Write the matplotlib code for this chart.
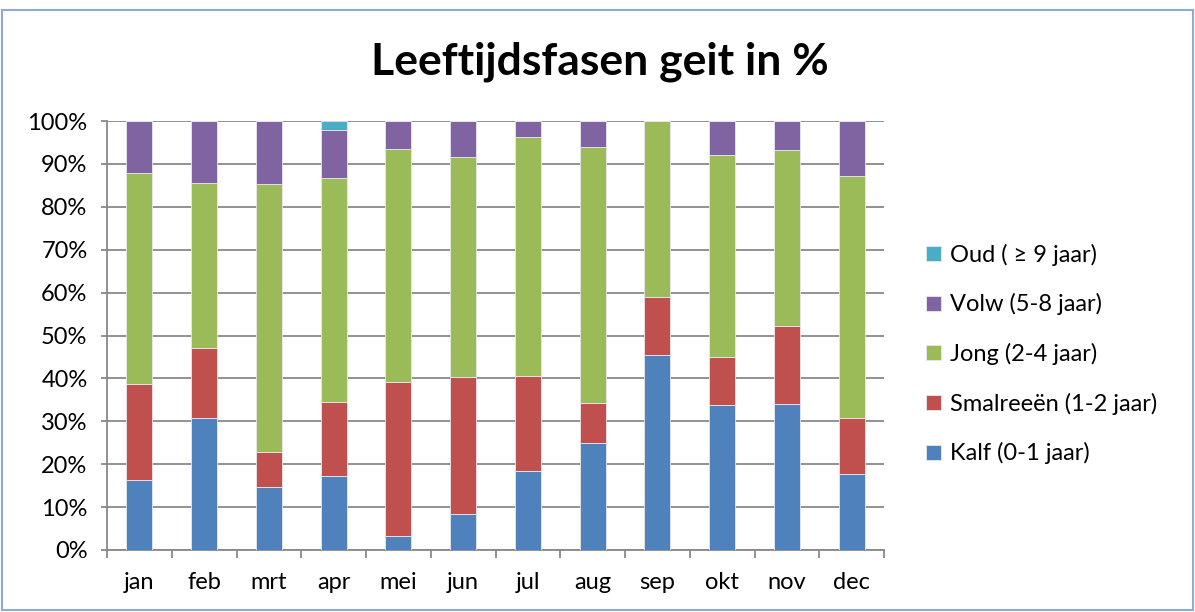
import matplotlib
matplotlib.use("Agg")
import matplotlib.pyplot as plt
import matplotlib.ticker as mticker
from matplotlib.patches import Rectangle
import numpy as np

plt.rcParams['font.family'] = ['Lato', 'DejaVu Sans']

months = ["jan", "feb", "mrt", "apr", "mei", "jun", "jul", "aug", "sep", "okt", "nov", "dec"]
kalf = [16.3, 30.8, 14.6, 17.3, 3.2, 8.4, 18.4, 24.9, 45.4, 33.9, 34.1, 17.8]
smalreeen = [22.4, 16.4, 8.2, 17.2, 35.9, 31.9, 22.2, 9.3, 13.6, 11.2, 18.1, 12.9]
jong = [49.2, 38.3, 62.5, 52.1, 54.4, 51.2, 55.7, 59.7, 41.0, 47.0, 41.0, 56.5]
volw = [12.1, 14.5, 14.7, 11.4, 6.5, 8.5, 3.7, 6.1, 0.0, 7.9, 6.8, 12.8]
oud = [0, 0, 0, 2.0, 0, 0, 0, 0, 0, 0, 0, 0]

series = [
    ("Kalf (0-1 jaar)", kalf, "#4F81BD"),
    ("Smalreeën (1-2 jaar)", smalreeen, "#C0504D"),
    ("Jong (2-4 jaar)", jong, "#9BBB59"),
    ("Volw (5-8 jaar)", volw, "#8064A2"),
    ("Oud ( ≥ 9 jaar)", oud, "#4BACC6"),
]

grid_color = "#898989"
fs = 17

fig = plt.figure(figsize=(11.95, 6.12), dpi=100)
ax = fig.add_axes([107 / 1195, 1 - 550 / 612, (884 - 107) / 1195, (550 - 121) / 612])

x = np.arange(len(months))
bottom = np.zeros(len(months))
handles = []
for label, vals, color in series:
    vals = np.array(vals)
    b = ax.bar(x, vals, width=0.4, bottom=bottom, color=color, edgecolor="#e8e8f0",
               linewidth=0.6, label=label, zorder=3)
    handles.append(b)
    bottom += vals

ax.set_xlim(-0.5, 11.5)
ax.set_ylim(0, 100)
ax.yaxis.set_major_locator(mticker.MultipleLocator(10))
ax.yaxis.set_major_formatter(mticker.StrMethodFormatter("{x:.0f}%"))
ax.grid(axis="y", color=grid_color, linewidth=1.3, zorder=0)
ax.set_xticks(x)
ax.set_xticklabels(months)
ax.set_xticks(np.arange(-0.5, 12, 1), minor=True)
ax.tick_params(axis="x", which="major", length=0, pad=16, labelsize=fs)
ax.tick_params(axis="x", which="minor", length=6, width=1.3, color=grid_color)
ax.tick_params(axis="y", length=4, width=1.3, color=grid_color, pad=10, labelsize=fs)

for side in ["top", "right"]:
    ax.spines[side].set_visible(False)
for side in ["left", "bottom"]:
    ax.spines[side].set_color(grid_color)
    ax.spines[side].set_linewidth(1.3)

fig.text(600 / 1195, 1 - 62 / 612, "Leeftijdsfasen geit in %", ha="center", va="center",
         fontsize=32, fontweight="bold")

leg = fig.legend(handles[::-1], [s[0] for s in series][::-1], loc="center left",
                 bbox_to_anchor=(917 / 1195, 1 - 354 / 612), frameon=False,
                 borderaxespad=0, fontsize=fs, handlelength=0.6, handleheight=0.6,
                 handletextpad=0.4, labelspacing=1.17)

fig.patches.append(Rectangle((2 / 1195, 2 / 612), 1 - 4 / 1195, 1 - 12 / 612,
                             transform=fig.transFigure, fill=False,
                             edgecolor="#8eaad6", linewidth=1.5))

fig.savefig("out.png", dpi=100)
